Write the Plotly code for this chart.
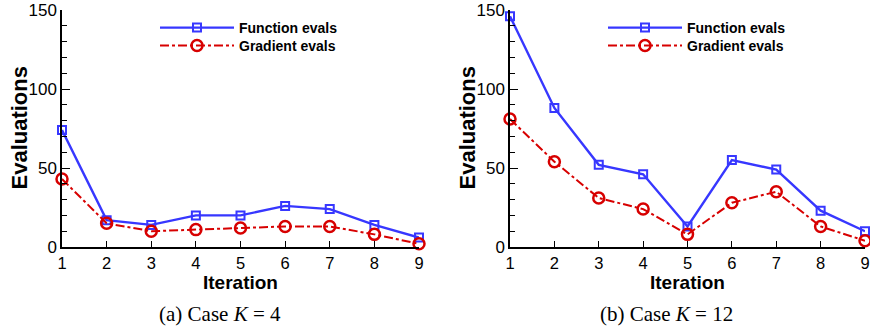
import plotly.graph_objects as go

iterations = [1, 2, 3, 4, 5, 6, 7, 8, 9]
func_k4 = [74, 17, 14, 20, 20, 26, 24, 14, 6]
grad_k4 = [43, 15, 10, 11, 12, 13, 13, 8, 2]
func_k12 = [146, 88, 52, 46, 13, 55, 49, 23, 10]
grad_k12 = [81, 54, 31, 24, 8, 28, 35, 13, 4]
y_ticks = [0, 50, 100, 150]
captions = ["(a) Case <i>K</i> = 4", "(b) Case <i>K</i> = 12"]

BLUE = "rgb(55,55,255)"
RED = "rgb(215,0,0)"
W, H = 870, 333

fig = go.Figure()

def add_panel(fvals, gvals, xa, ya, legf, legg):
    fig.add_trace(go.Scatter(
        x=iterations, y=fvals, mode="lines+markers", name="Function evals",
        xaxis=xa, yaxis=ya, legend=legf, cliponaxis=False,
        line=dict(color=BLUE, width=2.4),
        marker=dict(symbol="square-open", size=8, color=BLUE, line=dict(width=2, color=BLUE)),
    ))
    fig.add_trace(go.Scatter(
        x=iterations, y=gvals, mode="lines+markers", name="Gradient evals",
        xaxis=xa, yaxis=ya, legend=legg, cliponaxis=False,
        line=dict(color=RED, width=2, dash="dashdot"),
        marker=dict(symbol="circle-open", size=11, color=RED, line=dict(width=2.5, color=RED)),
    ))

add_panel(func_k4, grad_k4, "x", "y", "legend", "legend2")
add_panel(func_k12, grad_k12, "x2", "y2", "legend3", "legend4")

x1 = [62 / W, 419 / W]
x2 = [510 / W, 865 / W]
ydom = [1 - 247 / H, 1 - 10 / H]

xcommon = dict(
    range=[1, 9], tickvals=iterations, showgrid=False, zeroline=False,
    showline=True, linecolor="black", linewidth=1.5, ticks="inside", ticklen=6,
    tickcolor="black", tickfont=dict(family="Liberation Sans, Arial", size=16.5, color="black"),
)
ycommon = dict(
    range=[0, 150], tickvals=y_ticks, showgrid=False, zeroline=False,
    showline=True, linecolor="black", linewidth=1.5, ticks="inside", ticklen=8,
    tickcolor="black", tickfont=dict(family="Liberation Sans, Arial", size=17, color="black"),
    minor=dict(dtick=10, ticks="inside", ticklen=5, tickcolor="black"),
    ticklabelstandoff=0,
)

leg_font = dict(family="Liberation Sans, Arial", size=14, color="black", weight="bold")
def leg(xpix, ypix):
    return dict(x=xpix / W, y=1 - ypix / H, xanchor="left", yanchor="middle",
                bgcolor="rgba(0,0,0,0)", itemwidth=74, font=leg_font)

fig.update_layout(
    width=W, height=H, margin=dict(l=0, r=0, t=0, b=0, autoexpand=False),
    paper_bgcolor="white", plot_bgcolor="white", showlegend=True,
    xaxis=dict(domain=x1, anchor="y", **xcommon),
    yaxis=dict(domain=ydom, anchor="x", **ycommon),
    xaxis2=dict(domain=x2, anchor="y2", **xcommon),
    yaxis2=dict(domain=ydom, anchor="x2", **ycommon),
    legend=leg(155, 28), legend2=leg(155, 46),
    legend3=leg(603, 28), legend4=leg(603, 46),
)

title_font = dict(family="Liberation Sans, Arial", size=19, color="black", weight="bold")
cap_font = dict(family="Liberation Serif, Times New Roman", size=21, color="black")
ann = []
for xd, cap, ytx in [(x1, captions[0], 19), (x2, captions[1], 467)]:
    cx = (xd[0] + xd[1]) / 2
    ann.append(dict(text="<b>Iteration</b>", x=cx, y=1 - 282 / H, xref="paper", yref="paper",
                    showarrow=False, font=title_font, xanchor="center", yanchor="middle",
                    borderpad=0))
    ann.append(dict(text="<b>Evaluations</b>", x=ytx / W, y=(ydom[0] + ydom[1]) / 2,
                    xref="paper", yref="paper", showarrow=False, textangle=-90,
                    font=dict(family="Liberation Sans, Arial", size=22, color="black", weight="bold"),
                    xanchor="center", yanchor="middle"))
    ann.append(dict(text=cap, x=cx - 21 / W, y=1 - 314 / H, xref="paper", yref="paper",
                    showarrow=False, font=cap_font, xanchor="center", yanchor="middle"))
fig.update_layout(annotations=ann)

fig.write_html("out.html")
